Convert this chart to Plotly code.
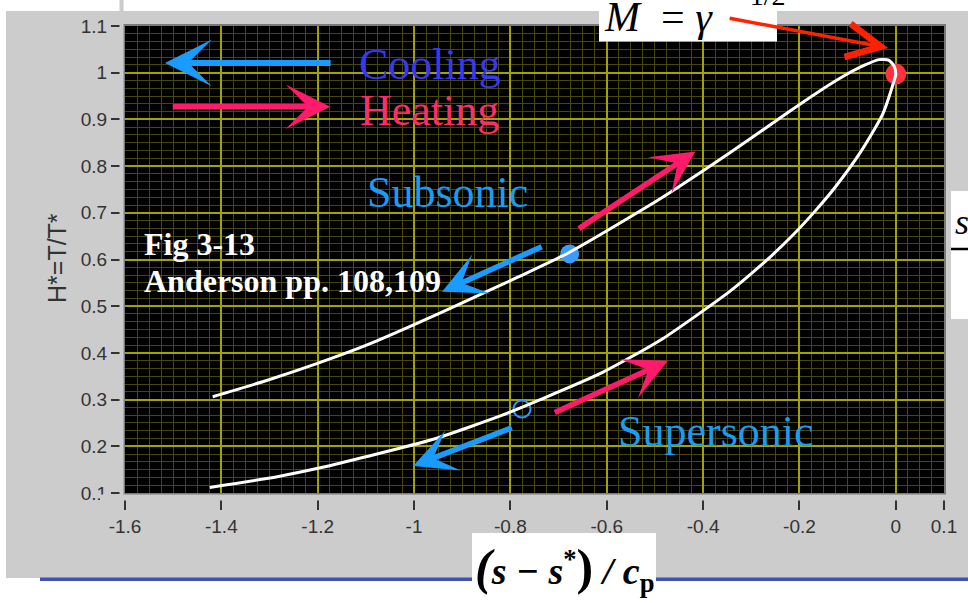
import plotly.graph_objects as go

# Rayleigh line in the H-S plane: H* = T/T* against (s - s*)/cp
# Subsonic branch, from the far left up to the sonic point (M = 1)
sub_s = [-1.418, -1.306, -1.202, -1.100, -1.001, -0.890, -0.787, -0.680,
         -0.524, -0.471, -0.400, -0.300, -0.221, -0.158, -0.108, -0.065,
         -0.035, -0.015, -0.004, 0.000]
sub_h = [0.306, 0.341, 0.377, 0.416, 0.460, 0.512, 0.561, 0.614,
         0.708, 0.742, 0.790, 0.860, 0.917, 0.961, 0.993, 1.016,
         1.028, 1.027, 1.015, 0.997]

# Supersonic branch, from the sonic point back down to the left
sup_s = [-0.005, -0.027, -0.072, -0.128, -0.169, -0.212, -0.257, -0.303,
         -0.348, -0.483, -0.613, -0.738, -0.821, -0.960, -1.098, -1.190,
         -1.284, -1.424]
sup_h = [0.978, 0.912, 0.832, 0.752, 0.702, 0.654, 0.609, 0.567,
         0.529, 0.431, 0.356, 0.300, 0.265, 0.215, 0.178, 0.155,
         0.135, 0.112]

# Marked states
sonic_s, sonic_h = [0.0], [0.997]          # M = 1
subsonic_s, subsonic_h = [-0.677], [0.612]
supersonic_s, supersonic_h = [-0.776], [0.280]

x_tick_vals = [-1.6, -1.4, -1.2, -1.0, -0.8, -0.6, -0.4, -0.2, 0.0, 0.1]
x_tick_text = ["-1.6", "-1.4", "-1.2", "-1", "-0.8", "-0.6", "-0.4", "-0.2", "0", "0.1"]
y_tick_vals = [0.1, 0.2, 0.3, 0.4, 0.5, 0.6, 0.7, 0.8, 0.9, 1.0, 1.1]
y_tick_text = ["0.1", "0.2", "0.3", "0.4", "0.5", "0.6", "0.7", "0.8", "0.9", "1", "1.1"]

W, H = 968, 603
ML, MR, MT, MB = 125, 24, 26, 110
PW, PH = W - ML - MR, H - MT - MB


def px_x(px):
    return (px - ML) / PW


def px_y(py):
    return (H - MB - py) / PH


PANEL = "#cccccc"
BLUE_ARROW = "#1a9cff"
PINK_ARROW = "#ff1a6c"
SERIF = "Liberation Serif, Times New Roman, serif"
SANS = "Liberation Sans, Arial, sans-serif"

fig = go.Figure()

fig.add_trace(go.Scatter(
    x=sonic_s, y=sonic_h, mode="markers", hoverinfo="skip",
    marker=dict(size=21, color="#ff3340", line=dict(width=0)),
))
fig.add_trace(go.Scatter(
    x=subsonic_s, y=subsonic_h, mode="markers", hoverinfo="skip",
    marker=dict(size=19, color="#3d9bff", line=dict(width=0)),
))
fig.add_trace(go.Scatter(
    x=supersonic_s, y=supersonic_h, mode="markers", hoverinfo="skip",
    marker=dict(size=17, symbol="circle-open", color="#2f95ff",
                line=dict(width=2, color="#2f95ff")),
))
fig.add_trace(go.Scatter(
    x=sub_s + sup_s, y=sub_h + sup_h, mode="lines", hoverinfo="skip",
    line=dict(color="white", width=3, shape="spline", smoothing=0.6),
))

shapes = [
    # white page around the grey panel
    dict(type="rect", xref="paper", yref="paper", layer="below",
         x0=px_x(0), x1=px_x(W), y0=px_y(11), y1=px_y(0),
         fillcolor="white", line=dict(width=0)),
    dict(type="rect", xref="paper", yref="paper", layer="below",
         x0=px_x(0), x1=px_x(6), y0=px_y(H), y1=px_y(0),
         fillcolor="white", line=dict(width=0)),
    dict(type="rect", xref="paper", yref="paper", layer="below",
         x0=px_x(0), x1=px_x(W), y0=px_y(H), y1=px_y(578),
         fillcolor="white", line=dict(width=0)),
    # blue rule under the panel
    dict(type="rect", xref="paper", yref="paper", layer="above",
         x0=px_x(40), x1=px_x(W), y0=px_y(581), y1=px_y(577.5),
         fillcolor="#3f51b5", line=dict(width=0)),
    # gap between the plot frame and the tick marks
    dict(type="rect", xref="paper", yref="paper", layer="above",
         x0=px_x(100), x1=px_x(W), y0=px_y(500.5), y1=px_y(494.6),
         fillcolor=PANEL, line=dict(width=0)),
    dict(type="rect", xref="paper", yref="paper", layer="above",
         x0=px_x(119.5), x1=px_x(123.6), y0=px_y(500), y1=px_y(0),
         fillcolor=PANEL, line=dict(width=0)),
    # white boxes for the equation fragments
    dict(type="rect", xref="paper", yref="paper", layer="above",
         x0=px_x(599), x1=px_x(777), y0=px_y(41.5), y1=px_y(-2),
         fillcolor="white", line=dict(width=0)),
    dict(type="rect", xref="paper", yref="paper", layer="above",
         x0=px_x(472), x1=px_x(656), y0=px_y(H + 2), y1=px_y(533),
         fillcolor="white", line=dict(width=0)),
    dict(type="rect", xref="paper", yref="paper", layer="above",
         x0=px_x(951), x1=px_x(W + 2), y0=px_y(319), y1=px_y(191),
         fillcolor="white", line=dict(width=0)),
    dict(type="line", xref="paper", yref="paper", layer="above",
         x0=px_x(951), x1=px_x(W + 2), y0=px_y(249), y1=px_y(249),
         line=dict(color="black", width=2.5)),
]


def arrow(head, tail, color, width=5.5, size=1.3):
    return dict(x=head[0], y=head[1], ax=tail[0], ay=tail[1],
                xref="x", yref="y", axref="x", ayref="y", text="",
                showarrow=True, arrowhead=3, arrowsize=size,
                arrowwidth=width, arrowcolor=color)


def label(x, y, text, color, size=44, xanchor="center", bold=False):
    if bold:
        text = "<b>" + text + "</b>"
    return dict(x=x, y=y, xref="x", yref="y", text=text, showarrow=False,
                xanchor=xanchor, yanchor="middle",
                font=dict(family=SERIF, size=size, color=color))


annotations = [
    # legend arrows
    arrow((-1.517, 1.021), (-1.170, 1.021), BLUE_ARROW, width=6, size=1.3),
    arrow((-1.174, 0.927), (-1.504, 0.927), PINK_ARROW, width=5.5, size=1.35),
    # subsonic branch
    arrow((-0.416, 0.831), (-0.661, 0.664), PINK_ARROW),
    arrow((-0.942, 0.531), (-0.732, 0.629), BLUE_ARROW),
    # supersonic branch
    arrow((-0.473, 0.383), (-0.711, 0.271), PINK_ARROW),
    arrow((-1.002, 0.158), (-0.794, 0.241), BLUE_ARROW),
    # pointer to the maximum-temperature state
    dict(x=-0.016, y=1.053, ax=-160, ay=-30, xref="x", yref="y",
         text="", showarrow=True, arrowhead=5, arrowsize=1.9,
         arrowwidth=3.5, arrowcolor="#ff2200"),
    label(-0.967, 1.017, "Cooling", "#3838f2"),
    label(-0.967, 0.919, "Heating", "#ff2d66"),
    label(-0.931, 0.743, "Subsonic", "#1d9bf0"),
    label(-0.373, 0.231, "Supersonic", "#1d9bf0"),
    label(-1.565, 0.633, "Fig 3-13", "white", size=32, xanchor="left", bold=True),
    label(-1.565, 0.555, "Anderson pp. 108,109", "white", size=32,
          xanchor="left", bold=True),
    # y-axis title
    dict(x=px_x(57), y=px_y(258), xref="paper", yref="paper",
         text="H*=T/T*", showarrow=False, textangle=-90,
         xanchor="center", yanchor="middle",
         font=dict(family=SANS, size=25, color="#333333")),
    # x-axis title
    dict(x=px_x(564), y=px_y(568), xref="paper", yref="paper",
         text="<b><i><span style='font-size:50px'>(</span>s − s</i><sup>*</sup>"
              "<span style='font-size:50px'>)</span><i> / c</i><sub>p</sub></b>",
         showarrow=False, xanchor="center", yanchor="middle",
         font=dict(family=SERIF, size=38, color="black")),
    # Mach number at maximum temperature (exponent runs off the top)
    dict(x=px_x(602), y=px_y(42), xref="paper", yref="paper",
         text="<i>M</i>  = <i>γ</i>",
         showarrow=False, xanchor="left", yanchor="bottom",
         font=dict(family=SERIF, size=42, color="black")),
    dict(x=px_x(732), y=px_y(13), xref="paper", yref="paper",
         text="−1/2", showarrow=False, xanchor="left", yanchor="bottom",
         font=dict(family=SERIF, size=28, color="black")),
    dict(x=px_x(953), y=px_y(222), xref="paper", yref="paper",
         text="<i>s</i>", showarrow=False, xanchor="left", yanchor="middle",
         font=dict(family=SERIF, size=36, color="black")),
]

fig.update_layout(
    width=W, height=H,
    margin=dict(l=ML, r=MR, t=MT, b=MB, pad=0),
    paper_bgcolor=PANEL,
    plot_bgcolor="black",
    showlegend=False,
    shapes=shapes,
    annotations=annotations,
    xaxis=dict(
        range=[-1.6, 0.1], tickmode="array", tickvals=x_tick_vals,
        ticktext=x_tick_text, ticks="outside", ticklen=15, tickwidth=1.5,
        tickcolor="#333333", showgrid=True, gridcolor="#a3a300",
        gridwidth=1.5, zeroline=False, showline=True, mirror=True,
        linecolor="#7a7a7a", linewidth=2,
        tickfont=dict(family=SANS, size=19, color="#333333"),
        minor=dict(tickmode="linear", tick0=-1.6, dtick=0.025,
                   showgrid=True, gridcolor="#47470a", gridwidth=1.4,
                   ticks=""),
    ),
    yaxis=dict(
        range=[0.1, 1.1], tickmode="array", tickvals=y_tick_vals,
        ticktext=y_tick_text, ticks="outside", ticklen=12, tickwidth=1.5,
        tickcolor="#333333", showgrid=True, gridcolor="#a3a300",
        gridwidth=1.5, zeroline=False, showline=True, mirror=True,
        linecolor="#7a7a7a", linewidth=2,
        tickfont=dict(family=SANS, size=19, color="#333333"),
        minor=dict(tickmode="linear", tick0=0.1, dtick=0.1 / 6,
                   showgrid=True, gridcolor="#47470a", gridwidth=1.4,
                   ticks=""),
    ),
)

fig.write_html("out.html")
